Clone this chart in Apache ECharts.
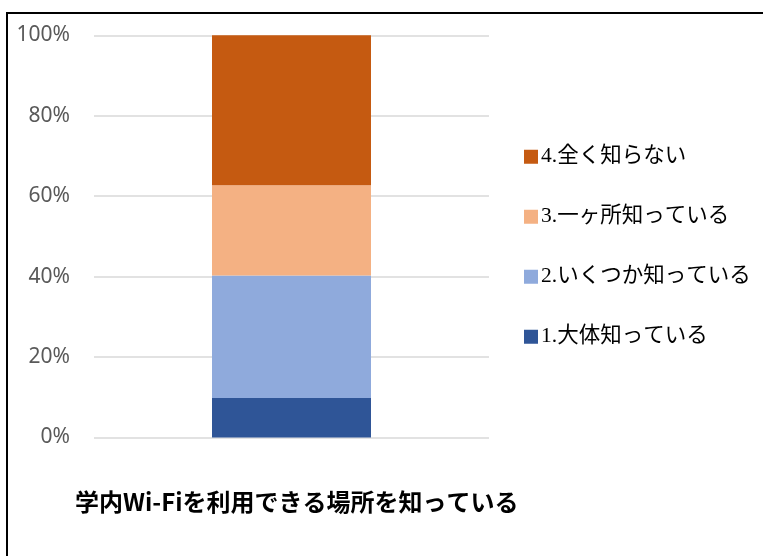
<!DOCTYPE html>
<html>
<head>
<meta charset="utf-8">
<script src="https://cdn.jsdelivr.net/npm/echarts@6/dist/echarts.min.js"></script>
<style>html,body{margin:0;padding:0;background:#fff;}#c{width:763px;height:556px;}</style>
</head>
<body>
<div id="c"></div>
<script>
const categories = ['学内Wi-Fiを利用できる場所を知っている'];
const seriesNames = ['1.大体知っている', '2.いくつか知っている', '3.一ヶ所知っている', '4.全く知らない'];
const seriesValues = [[9.8], [30.5], [22.4], [37.3]];
const seriesColors = ['#2F5597', '#8FAADC', '#F4B183', '#C55A11'];
const yTicks = [0, 20, 40, 60, 80, 100];

const chart = echarts.init(document.getElementById('c'), null, {renderer: 'canvas'});
const option = {
  animation: false,
  backgroundColor: '#ffffff',
  title: {
    text: categories[0],
    left: 70,
    top: 485,
    textStyle: {fontFamily: '"Noto Sans CJK JP"', fontWeight: 'bold', fontSize: 24, color: '#000000'}
  },
  graphic: [{
    type: 'rect',
    shape: {x: 7, y: 13, width: 1000, height: 1000},
    style: {fill: 'none', stroke: '#000000', lineWidth: 2},
    silent: true
  }],
  legend: {
    orient: 'vertical',
    left: 519,
    top: 141,
    itemWidth: 14,
    itemHeight: 14,
    itemGap: 38.5,
    icon: 'rect',
    data: seriesNames.slice().reverse(),
    textStyle: {fontFamily: '"Liberation Serif", "Noto Sans CJK JP"', fontSize: 21.5, lineHeight: 21, color: '#000000', padding: [0,0,0,-2]}
  },
  grid: {left: 94, right: 274, top: 35.3, bottom: 118.5, containLabel: false},
  xAxis: {
    type: 'category',
    data: categories,
    axisLine: {show: false},
    axisTick: {show: false},
    axisLabel: {show: false}
  },
  yAxis: {
    type: 'value',
    min: 0,
    max: 100,
    interval: 20,
    axisLine: {show: false},
    axisTick: {show: false},
    splitLine: {lineStyle: {color: '#d9d9d9', width: 1.5}},
    axisLabel: {
      margin: 24,
      fontFamily: '"Noto Sans"',
      fontSize: 21,
      color: '#595959',
      formatter: function (v) { return yTicks.indexOf(v) >= 0 ? v + '%' : ''; }
    }
  },
  series: seriesNames.map(function (name, i) {
    return {
      name: name,
      type: 'bar',
      stack: 'total',
      barWidth: 159,
      data: seriesValues[i],
      itemStyle: {color: seriesColors[i]}
    };
  })
};
chart.setOption(option);
</script>
</body>
</html>
